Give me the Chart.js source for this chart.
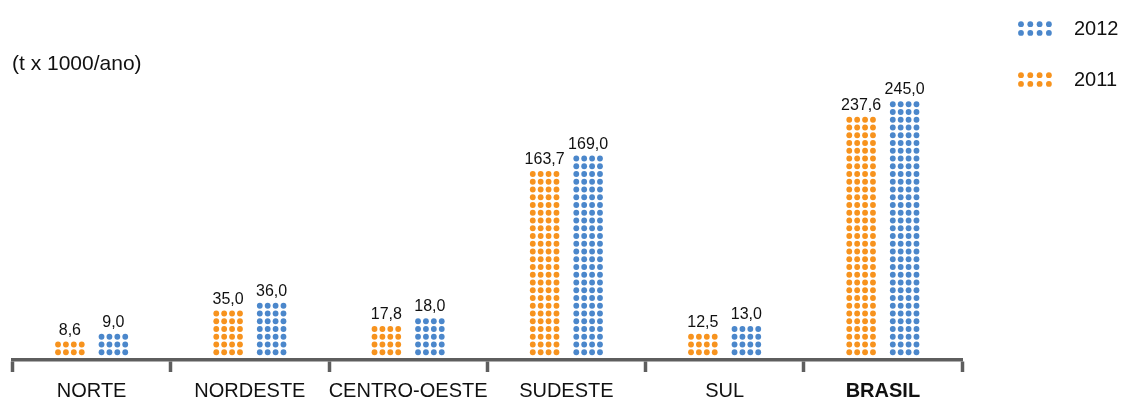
<!DOCTYPE html>
<html>
<head>
<meta charset="utf-8">
<script src="https://cdn.jsdelivr.net/npm/chart.js@4"></script>
<style>
	html, body { margin: 0; padding: 0; background: #ffffff; }
	canvas { display: block; }
</style>
</head>
<body>
<canvas id="myChart" width="1123" height="401"></canvas>
<script>
const regioes = ['NORTE', 'NORDESTE', 'CENTRO-OESTE', 'SUDESTE', 'SUL', 'BRASIL'];

// valores (t x 1000/ano)
const valores_2011 = [8.6, 35.0, 17.8, 163.7, 12.5, 237.6];
const valores_2012 = [9.0, 36.0, 18.0, 169.0, 13.0, 245.0];

// altura de cada coluna em linhas de pontos, como no grafico original
const linhas_2011 = [2, 6, 4, 24, 3, 31];
const linhas_2012 = [3, 7, 5, 26, 4, 33];

const cores = {
	ano_2011: '#F7931E',
	ano_2012: '#4B87CB',
	eixo: '#5E5E5E',
	texto: '#111111',
};

const fonte = '"Liberation Sans", Arial, Helvetica, sans-serif';
const passo_x = 7.9;   // distancia entre pontos
const passo_y = 7.75;
const raio = 2.9;

function formata(v) {
	return v.toFixed(1).replace('.', ',');
}

function ponto(ctx, x, y, cor) {
	ctx.fillStyle = cor;
	ctx.beginPath();
	ctx.arc(x, y, raio, 0, Math.PI * 2);
	ctx.fill();
}

const pontosPlugin = {
	id: 'pontos',
	afterDatasetsDraw(chart) {
		const ctx = chart.ctx;
		ctx.save();
		chart.data.datasets.forEach(function (ds, i) {
			const meta = chart.getDatasetMeta(i);
			meta.data.forEach(function (bar, j) {
				const p = bar.getProps(['x', 'y', 'base'], true);
				const linhas = ds.data[j];
				for (let r = 0; r < linhas; r++) {
					const cy = p.base - (r + 0.5) * passo_y;
					for (let c = 0; c < 4; c++) {
						const cx = p.x + (c - 1.5) * passo_x;
						ponto(ctx, cx, cy, ds.cor);
					}
				}
				// rotulo do valor
				ctx.fillStyle = cores.texto;
				ctx.font = '16px ' + fonte;
				ctx.textAlign = 'center';
				ctx.textBaseline = 'alphabetic';
				ctx.fillText(formata(ds.valores[j]), p.x, p.y - 6);
			});
		});
		ctx.restore();
	},
	afterDraw(chart) {
		const ctx = chart.ctx;
		ctx.save();
		// unidade
		ctx.fillStyle = cores.texto;
		ctx.font = '21px ' + fonte;
		ctx.textAlign = 'left';
		ctx.textBaseline = 'middle';
		ctx.fillText('(t x 1000/ano)', 12, 64);

		// legenda
		ctx.font = '20px ' + fonte;
		const itens = [
			{ label: '2012', cor: cores.ano_2012, y: 28.5 },
			{ label: '2011', cor: cores.ano_2011, y: 79.5 },
		];
		itens.forEach(function (it) {
			for (let r = 0; r < 2; r++) {
				for (let c = 0; c < 4; c++) {
					ponto(ctx, 1021 + c * 9.3, it.y - 4.3 + r * 8.7, it.cor);
				}
			}
			ctx.fillStyle = cores.texto;
			ctx.fillText(it.label, 1074, it.y + 1);
		});
		ctx.restore();
	},
};

const data = {
	labels: regioes,
	datasets: [
		{
			label: '2011',
			data: linhas_2011,
			valores: valores_2011,
			cor: cores.ano_2011,
			backgroundColor: 'rgba(0,0,0,0)',
			borderWidth: 0,
		},
		{
			label: '2012',
			data: linhas_2012,
			valores: valores_2012,
			cor: cores.ano_2012,
			backgroundColor: 'rgba(0,0,0,0)',
			borderWidth: 0,
		},
	],
};

const config = {
	type: 'bar',
	data: data,
	plugins: [pontosPlugin],
	options: {
		responsive: false,
		animation: false,
		devicePixelRatio: 1,
		categoryPercentage: 0.55,
		barPercentage: 0.75,
		layout: {
			padding: { left: 12.5, right: 161, top: 46, bottom: 0 },
		},
		plugins: {
			legend: { display: false },
			tooltip: { enabled: false },
		},
		scales: {
			x: {
				afterFit: function (scale) { scale.height = 41; },
				grid: {
					offset: true,
					drawOnChartArea: false,
					drawTicks: true,
					tickLength: 12,
					tickWidth: 3.5,
					tickColor: cores.eixo,
				},
				border: { display: true, color: cores.eixo, width: 3.5 },
				ticks: {
					color: cores.texto,
					padding: 7.5,
					maxRotation: 0,
					autoSkip: false,
					font: function (ctx) {
						return {
							family: fonte,
							size: 20,
							weight: ctx.index === 5 ? 'bold' : 'normal',
						};
					},
				},
			},
			y: {
				display: false,
				min: -0.5,
				max: 40,
			},
		},
	},
};

var myChart = new Chart(document.getElementById('myChart'), config);
</script>
</body>
</html>
